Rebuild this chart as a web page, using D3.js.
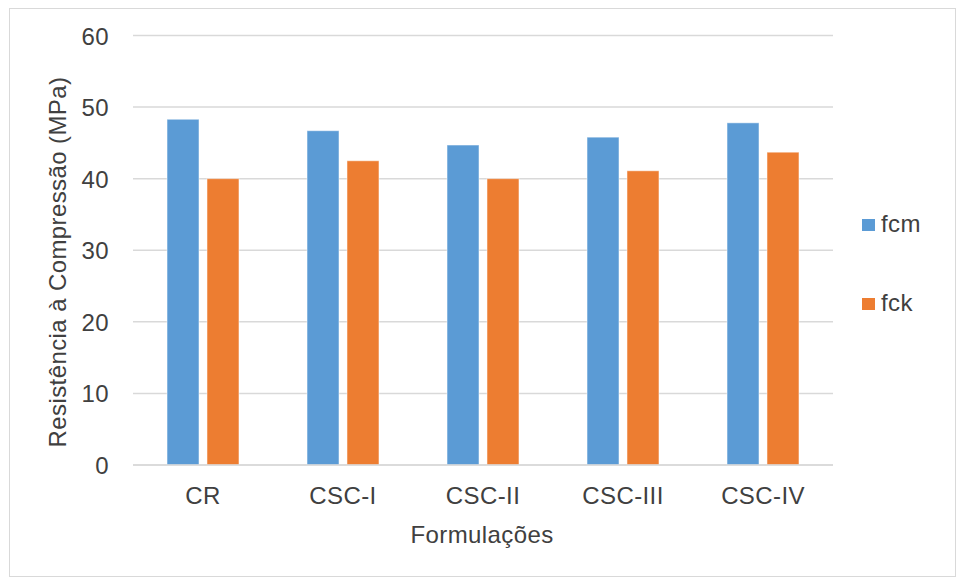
<!DOCTYPE html>
<html>
<head>
<meta charset="utf-8">
<script src="https://cdn.jsdelivr.net/npm/d3@7"></script>
<style>
  body { margin: 0; background: #fff; }
  text { font-family: "Liberation Sans", Arial, sans-serif; fill: #404040; font-size: 24px; letter-spacing: 0.4px; }
</style>
</head>
<body>
<div id="chart"></div>
<script>
// categories and series
let categories = ['CR', 'CSC-I', 'CSC-II', 'CSC-III', 'CSC-IV']
let seriesNames = ['fcm', 'fck']
let fcm = [48.3, 46.7, 44.7, 45.8, 47.8]
let fck = [40.0, 42.5, 40.0, 41.1, 43.7]
let yTicks = [0, 10, 20, 30, 40, 50, 60]
let colors = ['#5B9BD5', '#ED7D31']

let width = 957, height = 579
let margin = { top: 35.5, left: 133, right: 125, bottom: 114 }

let svg = d3.select('#chart').append('svg')
  .attr('width', width)
  .attr('height', height)

// outer frame
svg.append('rect')
  .attr('x', 9.5).attr('y', 8.5)
  .attr('width', 946).attr('height', 568)
  .attr('fill', 'none')
  .attr('stroke', '#d9d9d9')

let x0 = d3.scaleBand()
  .domain(categories)
  .range([margin.left, width - margin.right + 1])
  .paddingInner(0.486)
  .paddingOuter(0.243)

let x1 = d3.scaleBand()
  .domain(seriesNames)
  .range([0, x0.bandwidth()])
  .paddingInner(0.2)

let y = d3.scaleLinear()
  .domain([0, 60])
  .range([height - margin.bottom, margin.top])

// gridlines
svg.append('g').selectAll('line')
  .data(yTicks)
  .enter().append('line')
  .attr('x1', margin.left)
  .attr('x2', width - margin.right + 1)
  .attr('y1', d => y(d))
  .attr('y2', d => y(d))
  .attr('stroke', '#d9d9d9')
  .attr('stroke-width', 1.5)

// y tick labels
svg.append('g').selectAll('text')
  .data(yTicks)
  .enter().append('text')
  .attr('text-anchor', 'end')
  .attr('x', 109)
  .attr('y', d => y(d) + 9)
  .text(d => d)

// bars
let rows = categories.map((c, i) => ({ cat: c, values: [fcm[i], fck[i]] }))
let groups = svg.append('g').selectAll('g')
  .data(rows)
  .enter().append('g')
  .attr('transform', d => `translate(${x0(d.cat)},0)`)

groups.selectAll('rect')
  .data(d => d.values.map((v, j) => ({ key: seriesNames[j], value: v, j: j })))
  .enter().append('rect')
  .attr('x', d => x1(d.key))
  .attr('y', d => y(d.value))
  .attr('width', x1.bandwidth())
  .attr('height', d => y(0) - y(d.value))
  .attr('fill', d => colors[d.j])
  .attr('stroke', '#ffffff')
  .attr('stroke-opacity', 0.5)
  .attr('stroke-width', 1)

// x axis line
svg.append('line')
  .attr('x1', margin.left)
  .attr('x2', width - margin.right + 1)
  .attr('y1', y(0))
  .attr('y2', y(0))
  .attr('stroke', '#d9d9d9')
  .attr('stroke-width', 1.5)

// x tick labels
svg.append('g').selectAll('text')
  .data(categories)
  .enter().append('text')
  .attr('text-anchor', 'middle')
  .attr('x', d => x0(d) + x0.bandwidth() / 2)
  .attr('y', 504)
  .text(d => d)

// axis titles
svg.append('text')
  .attr('text-anchor', 'middle')
  .attr('x', 482)
  .attr('y', 543)
  .text('Formulações')

svg.append('text')
  .attr('text-anchor', 'middle')
  .attr('transform', 'translate(66,262) rotate(-90)')
  .text('Resistência à Compressão  (MPa)')

// legend
let legend = svg.append('g').selectAll('g')
  .data(seriesNames)
  .enter().append('g')
  .attr('transform', (d, i) => `translate(862,${225 + i * 79})`)

legend.append('rect')
  .attr('x', 0).attr('y', -6)
  .attr('width', 13).attr('height', 12)
  .attr('fill', (d, i) => colors[i])

legend.append('text')
  .attr('x', 19)
  .attr('y', 7)
  .text(d => d)
</script>
</body>
</html>
